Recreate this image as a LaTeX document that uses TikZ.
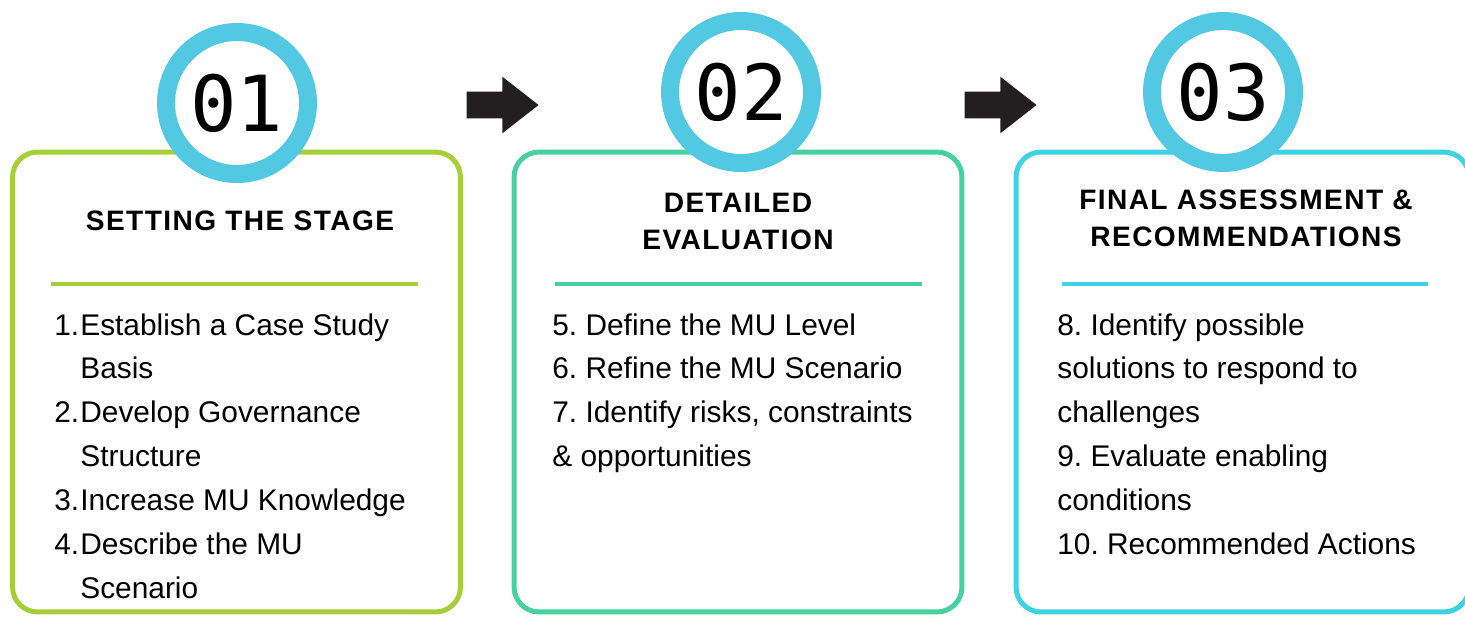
\documentclass[tikz,border=0pt]{standalone}
\usepackage{fontspec}
\setmainfont{Liberation Sans}
\newfontfamily\digitfont{DejaVu Sans Mono}
\newfontfamily\headfont[LetterSpace=5]{Liberation Sans}
\usepackage{tikz}
\usetikzlibrary{shapes.arrows, positioning}
\definecolor{stagegreen}{HTML}{A6CE39}
\definecolor{stageteal}{HTML}{48D1A0}
\definecolor{stagecyan}{HTML}{3DD3E3}
\definecolor{ringcyan}{HTML}{52C8E2}
\definecolor{arrowblack}{HTML}{231F20}
\newcommand{\numbox}[1]{\makebox[0.52cm][l]{#1}}
\frenchspacing
\tikzset{
    stagebox/.style={rectangle, rounded corners=0.5cm, line width=0.1cm, minimum width=8.96cm, minimum height=9.2cm, inner sep=0pt},
    ringnum/.style={circle, draw=ringcyan, line width=0.36cm, fill=white, minimum size=2.84cm, inner sep=0pt, font={\digitfont\fontsize{44}{44}\selectfont}},
    stagetitle/.style={anchor=base, inner sep=0pt, font={\headfont\bfseries\fontsize{16}{21.5}\selectfont}},
    itemlist/.style={anchor=base west, inner sep=0pt, font={\fontsize{17}{25}\selectfont}},
    divider/.style={line width=0.08cm},
    blockarrow/.style={single arrow, fill=arrowblack, minimum height=1.44cm, single arrow head extend=0.3cm, single arrow tip angle=76, inner sep=0.26cm}
}
\begin{document}
\begin{tikzpicture}[x=0.02cm, y=-0.02cm]
    \useasboundingbox (0,0) rectangle (1465,616);

    % the three stage boxes
    \node (stage1) [stagebox, draw=stagegreen] at (236.5,382) {};
    \node (stage2) [stagebox, draw=stageteal] at (738,382) {};
    \node (stage3) [stagebox, draw=stagecyan, minimum width=9.06cm] at (1242.5,382) {};

    \draw [divider, stagegreen] (51,284) -- (418,284);
    \draw [divider, stageteal] (555,284) -- (922,284);
    \draw [divider, stagecyan] (1062,284) -- (1428,284);

    % numbered rings on the top edges
    \node (num1) [ringnum] at (237,103) {01};
    \node (num2) [ringnum] at (741,92) {02};
    \node (num3) [ringnum] at (1223,92) {03};

    \node (arr1) [blockarrow] at (494,105) {};
    \node (arr2) [blockarrow] at (992,105) {};

    % titles
    \node (title1) [stagetitle] at (240,230) {\parbox[t]{8.4cm}{\centering SETTING THE STAGE}};
    \node (title2) [stagetitle] at (738,212) {\parbox[t]{8.4cm}{\centering DETAILED\\EVALUATION}};
    \node (title3) [stagetitle] at (1246,209) {\parbox[t]{8.4cm}{\centering FINAL ASSESSMENT \&\\RECOMMENDATIONS}};

    % step lists
    \node (list1) [itemlist] at (54,335) {\parbox[t]{8cm}{\raggedright
        \numbox{1.}Establish a Case Study\\
        \numbox{}Basis\\
        \numbox{2.}Develop Governance\\
        \numbox{}Structure\\
        \numbox{3.}Increase MU Knowledge\\
        \numbox{4.}Describe the MU\\
        \numbox{}Scenario}};
    \node (list2) [itemlist] at (552,335) {\parbox[t]{8cm}{\raggedright
        5. Define the MU Level\\
        6. Refine the MU Scenario\\
        7. Identify risks, constraints\\
        \& opportunities}};
    \node (list3) [itemlist] at (1057,335) {\parbox[t]{8cm}{\raggedright
        8. Identify possible\\
        solutions to respond to\\
        challenges\\
        9. Evaluate enabling\\
        conditions\\
        10. Recommended Actions}};
\end{tikzpicture}
\end{document}
